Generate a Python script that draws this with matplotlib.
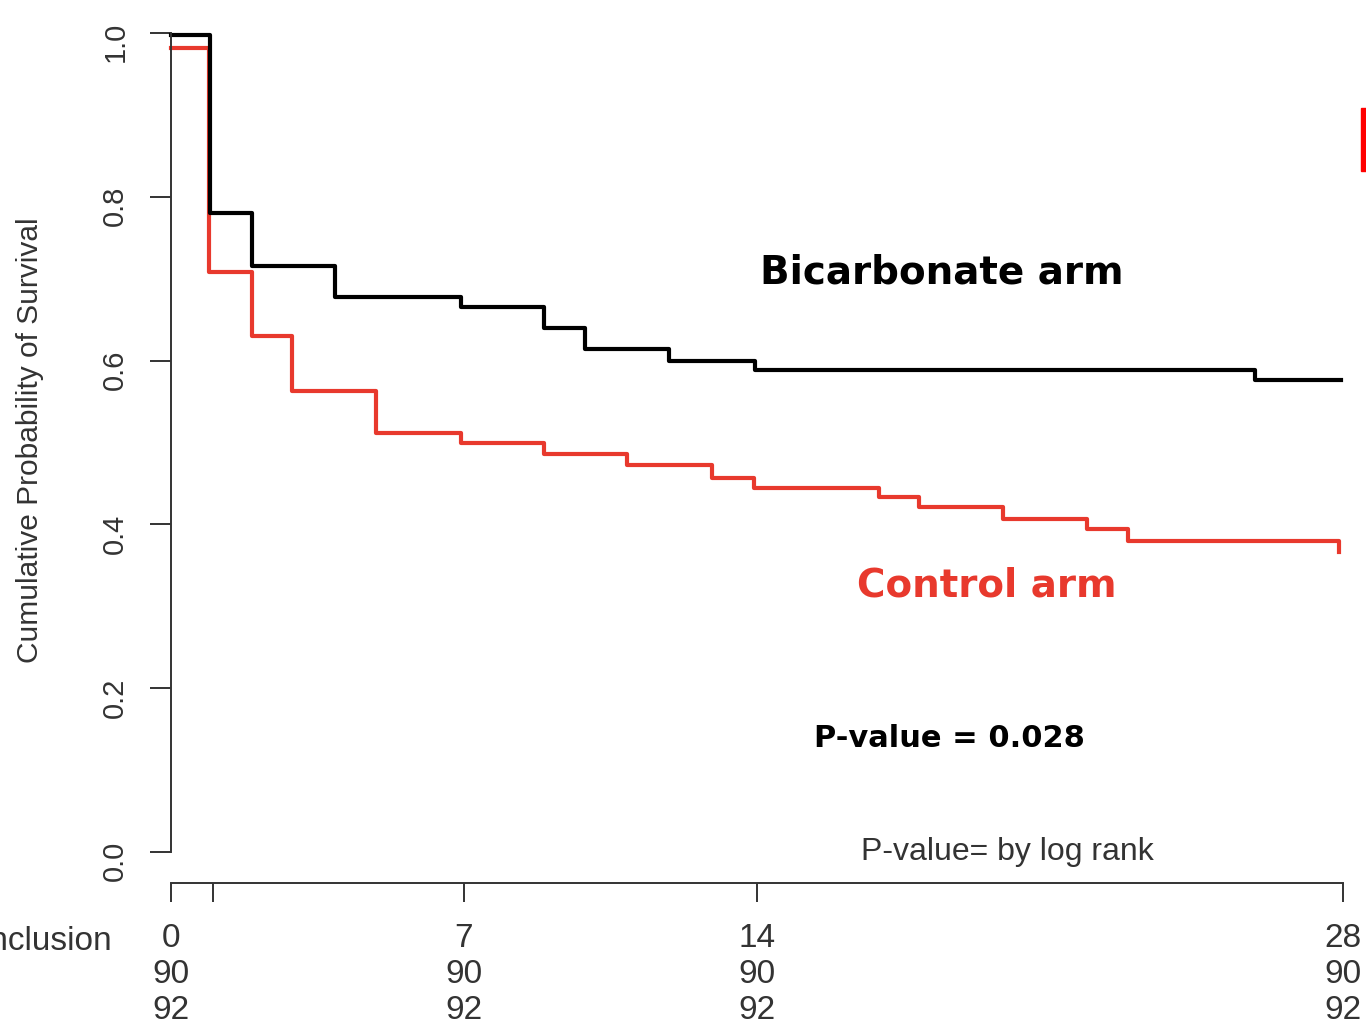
import matplotlib
matplotlib.use("Agg")
import matplotlib.pyplot as plt
from matplotlib.patches import Rectangle

# Kaplan-Meier curves (days, survival)
bicarb_t = [0, 0.93, 1.93, 3.92, 6.93, 8.9, 9.9, 11.9, 13.95, 25.9, 27.96]
bicarb_s = [0.998, 0.780, 0.716, 0.678, 0.665, 0.640, 0.614, 0.600, 0.588, 0.576, 0.576]

ctrl_t = [0, 0.9, 1.93, 2.9, 4.9, 6.93, 8.9, 10.9, 12.92, 13.93, 16.91, 17.87,
          19.88, 21.88, 22.86, 27.9]
ctrl_s = [0.982, 0.708, 0.630, 0.563, 0.512, 0.499, 0.486, 0.472, 0.457, 0.444,
          0.433, 0.421, 0.407, 0.394, 0.380, 0.366]

x_ticks = [0, 1, 7, 14, 28]
x_labels = ["0", "", "7", "14", "28"]
at_risk_bicarb = ["90", "", "90", "90", "90"]
at_risk_ctrl = ["92", "", "92", "92", "92"]
y_ticks = [0.0, 0.2, 0.4, 0.6, 0.8, 1.0]

RED = "#e8392d"
GREY = "#333333"
W, H = 1366, 1025

plt.rcParams['font.family'] = ['Liberation Sans', 'DejaVu Sans']

fig = plt.figure(figsize=(W / 100, H / 100), dpi=100)
ax = fig.add_axes([171 / W, 1 - 852 / H, (1343 - 171) / W, (852 - 33) / H])
ax.set_xlim(0, 28)
ax.set_ylim(0, 1)

ax.step(ctrl_t, ctrl_s, where='post', color=RED, lw=3, clip_on=False)
ax.step(bicarb_t, bicarb_s, where='post', color='black', lw=3, clip_on=False)

# axes look (R style)
ax.spines['top'].set_visible(False)
ax.spines['right'].set_visible(False)
ax.spines['left'].set_color(GREY)
ax.spines['left'].set_linewidth(1.4)
ax.spines['bottom'].set_position(('outward', 22.3))
ax.spines['bottom'].set_bounds(0, 28)
ax.spines['bottom'].set_color(GREY)
ax.spines['bottom'].set_linewidth(1.4)

ax.set_yticks(y_ticks)
ax.set_yticklabels([f"{v:.1f}" for v in y_ticks])
ax.tick_params(axis='y', length=15, width=1.4, color=GREY, labelrotation=90,
               pad=15, labelsize=21, labelcolor=GREY)

ax.set_xticks(x_ticks)
ax.set_xticklabels([f"{a}\n{b}\n{c}" for a, b, c in zip(x_labels, at_risk_bicarb, at_risk_ctrl)],
                   linespacing=1.2)
ax.tick_params(axis='x', length=14, width=1.4, color=GREY, pad=15,
               labelsize=24, labelcolor=GREY)

fig.text(113 / W, 1 - 941 / H, "Inclusion", ha='right', va='center', fontsize=24, color=GREY)
fig.text(30 / W, 1 - 440 / H, "Cumulative Probability of Survival", rotation=90,
         ha='center', va='center', fontsize=21.5, color=GREY)

# annotations
ax.text(18.42, 0.707, "Bicarbonate arm", fontsize=28, fontweight='bold',
        family='DejaVu Sans', ha='center', va='center', color='black')
ax.text(19.5, 0.325, "Control arm", fontsize=28, fontweight='bold',
        family='DejaVu Sans', ha='center', va='center', color=RED)
ax.text(18.6, 0.139, "P-value = 0.028", fontsize=22, fontweight='bold',
        family='DejaVu Sans', ha='center', va='center', color='black')
ax.text(19.97, 0.0, "P-value= by log rank", fontsize=23, ha='center', va='center',
        color=GREY)

# red bar cut off at the right edge
fig.patches.append(Rectangle((1361 / W, 1 - 171 / H), 6 / W, 63 / H,
                             transform=fig.transFigure, color='#ff0000'))

fig.savefig("out.png", dpi=100)
